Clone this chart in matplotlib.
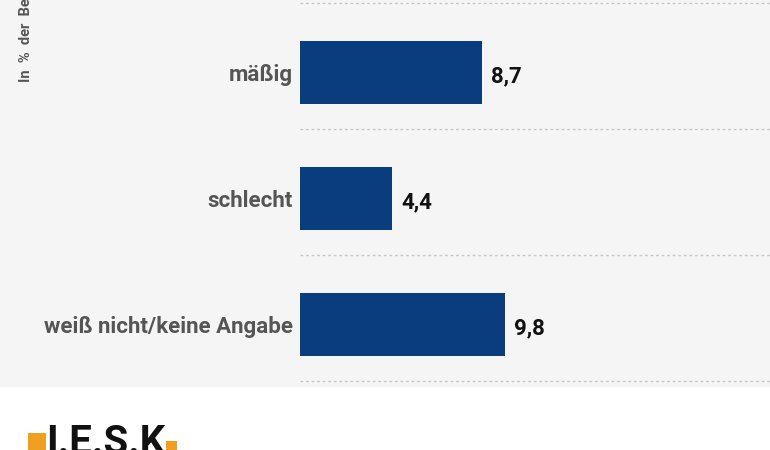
import matplotlib.pyplot as plt
from matplotlib.patches import Rectangle

categories = ["mäßig", "schlecht", "weiß nicht/keine Angabe"]
values = [8.7, 4.4, 9.8]
value_labels = ["8,7", "4,4", "9,8"]
axis_label = "In  %  der  Befragten"

fig = plt.figure(figsize=(7.7, 4.5), dpi=100)
fig.patch.set_facecolor("#f5f5f5")

# white strip at the bottom where the logo sits
fig.patches.append(Rectangle((0, 0), 1, 0.14, transform=fig.transFigure,
                             facecolor="white", edgecolor="none", zorder=0))

ax = fig.add_axes([300 / 770, 0, 470 / 770, 1])
ax.set_facecolor("none")

pos = list(range(len(categories)))
ax.barh(pos, values, height=0.5, color="#0a3d7e", zorder=3)

# dotted separators between the categories
for g in [-0.556, 0.444, 1.444, 2.447]:
    ax.axhline(g, color="#c8c8c8", linestyle=(0, (2, 2)), linewidth=1.0, zorder=1)

for p, v, lab in zip(pos, values, value_labels):
    ax.text(v + 0.45, p + 0.03, lab, va="center", ha="left", fontsize=16,
            fontweight="bold", color="#111111", family=["Roboto", "DejaVu Sans"])

ax.set_xlim(0, 470 / 20.9)
ax.set_ylim(2.992, -0.579)
ax.set_yticks(pos)
ax.set_yticklabels(categories, fontsize=16, fontweight="bold", color="#555555",
                   family=["Roboto", "DejaVu Sans"])
ax.tick_params(axis="y", length=0, pad=5)
ax.set_xticks([])
for s in ax.spines.values():
    s.set_visible(False)

fig.text(26 / 770, 1 - 82 / 450, axis_label, rotation=90, ha="center", va="bottom",
         fontsize=10.5, fontweight="bold", color="#555555", family=["Roboto", "DejaVu Sans"])

# logo
fig.patches.append(Rectangle((28 / 770, 0), 18 / 770, 17 / 450, transform=fig.transFigure,
                             facecolor="#f0a020", edgecolor="none", zorder=1))
fig.patches.append(Rectangle((166 / 770, 0), 11 / 770, 9 / 450, transform=fig.transFigure,
                             facecolor="#f0a020", edgecolor="none", zorder=1))
fig.text(46 / 770, -4 / 450, "I.E.S.K", ha="left", va="baseline", fontsize=29,
         fontweight="bold", color="#111111", family=["Roboto", "DejaVu Sans"], zorder=5)

fig.savefig("out.png", dpi=100, facecolor=fig.get_facecolor())
